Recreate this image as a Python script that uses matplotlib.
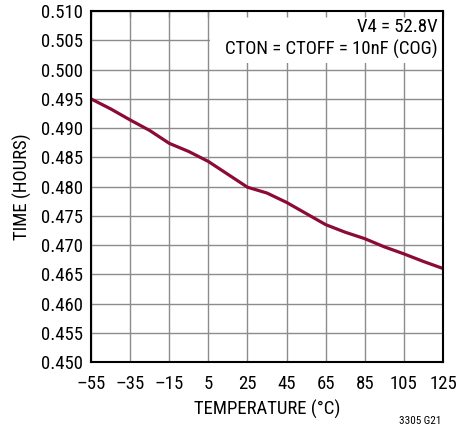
import numpy as np
import matplotlib
matplotlib.use('Agg')
import matplotlib.pyplot as plt
from matplotlib.patches import Rectangle
import logging
logging.getLogger('matplotlib.font_manager').setLevel(logging.ERROR)

# data (every 10 degrees)
temperature = [-55, -45, -35, -25, -15, -5, 5, 15, 25, 35, 45, 55, 65, 75, 85, 95, 105, 115, 125]
time_hours = [0.4950, 0.4933, 0.4914, 0.4896, 0.4874, 0.4860, 0.4843, 0.4821, 0.4799, 0.4789,
              0.4773, 0.4754, 0.4735, 0.4722, 0.4711, 0.4697, 0.4685, 0.4672, 0.4660]

x_ticks = [-55, -35, -15, 5, 25, 45, 65, 85, 105, 125]
y_ticks = [0.450, 0.455, 0.460, 0.465, 0.470, 0.475, 0.480, 0.485, 0.490, 0.495, 0.500, 0.505, 0.510]

plt.rcParams['font.family'] = ['Roboto Condensed', 'Liberation Sans Narrow', 'Nimbus Sans Narrow',
                               'Archivo Narrow', 'DejaVu Sans']

fig = plt.figure(figsize=(4.74, 4.29), dpi=100)
ax = fig.add_axes([0.192, 0.156, 0.7426, 0.818])

ax.set_xlim(-55, 125)
ax.set_ylim(0.450, 0.510)
ax.set_xticks(x_ticks)
ax.set_xticklabels([str(t).replace('-', '\u2013') for t in x_ticks])
ax.set_yticks(y_ticks)
ax.set_yticklabels(['%.3f' % v for v in y_ticks])
ax.tick_params(axis='both', length=0, labelsize=13.5, pad=6)
ax.tick_params(axis='x', pad=9)

ax.set_axisbelow(True)
ax.grid(True, color='#8c8c8c', linewidth=1.0)

# white box behind the notes (starts at the 5 gridline)
ax.add_patch(Rectangle((5.6, 0.5011), 119.4, 0.0089, facecolor='white',
                       edgecolor='none', zorder=1))

# small inward ticks on top edge, visible inside the white box
top = ax.secondary_xaxis('top')
top.set_xticks(x_ticks)
top.tick_params(direction='in', length=4, width=1.0, color='#8c8c8c', labeltop=False)
top.spines['top'].set_visible(False)
top.set_zorder(2)

ax.plot(temperature, time_hours, color='#8B0A36', linewidth=2.3,
        solid_joinstyle='round', solid_capstyle='butt', zorder=3)

ax.text(122.5, 0.50732, 'V4 = 52.8V', ha='right', va='center', fontsize=13.5, zorder=4)
ax.text(122.5, 0.50345, 'CTON = CTOFF = 10nF (COG)', ha='right', va='center',
        fontsize=13.5, zorder=4)

for s in ax.spines.values():
    s.set_color('black')
    s.set_linewidth(1.5)
    s.set_zorder(5)

ax.set_xlabel('TEMPERATURE (\u00b0C)', fontsize=13.5, labelpad=5)
ax.set_ylabel('TIME (HOURS)', fontsize=13.5, labelpad=6)

fig.text(0.886, 0.008, '3305 G21', ha='center', va='bottom', fontsize=8)

fig.savefig('out.png', dpi=100)
